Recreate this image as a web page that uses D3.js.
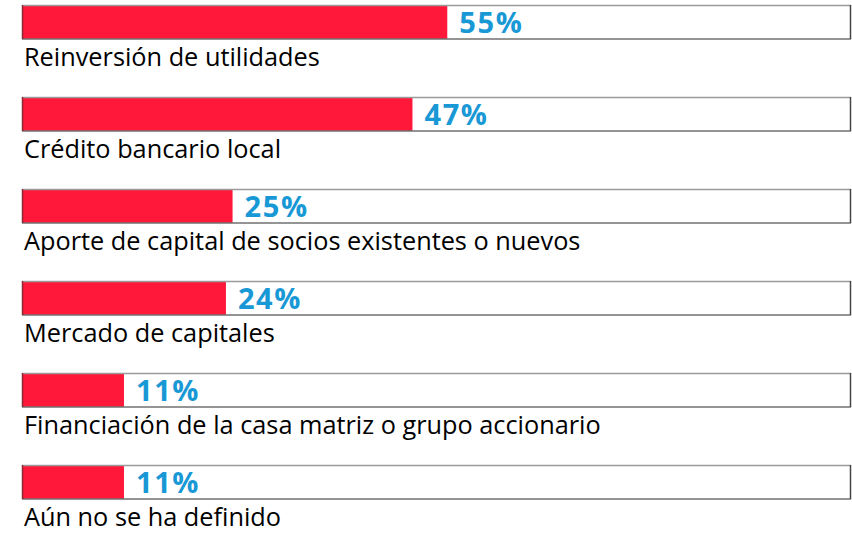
<!DOCTYPE html>
<html>
<head>
<meta charset="utf-8">
<script src="https://cdn.jsdelivr.net/npm/d3@7"></script>
<style>
  html, body { margin: 0; padding: 0; background: #fff; }
  svg { display: block; }
  .cat-label { font-family: "Open Sans", sans-serif; font-size: 25.3px; fill: #000; }
  .pct-label { font-family: "Open Sans", sans-serif; font-size: 29px; font-weight: 700; fill: #1998d6; letter-spacing: 1.6px; }
</style>
</head>
<body>
<svg id="chart"></svg>
<script>
const categories = [
  'Reinversión de utilidades',
  'Crédito bancario local',
  'Aporte de capital de socios existentes o nuevos',
  'Mercado de capitales',
  'Financiación de la casa matriz o grupo accionario',
  'Aún no se ha definido'
];
// value printed next to each bar
const values = [55, 47, 25, 24, 11, 11];
// bar length as drawn in the picture, % of the full track
const barLengths = [51.3, 47.1, 25.4, 24.6, 12.3, 12.3];

const SVG_W = 852;
const SVG_H = 534;
const TRACK_X0 = 22;
const TRACK_X1 = 851;
const ROW_STEP = 92;
const TOP = 5;
const BAR_H = 34;

const xScale = d3.scaleLinear().domain([0, 100]).range([TRACK_X0, TRACK_X1]);
const yScale = d3.scaleBand()
  .domain(categories)
  .range([TOP, TOP + ROW_STEP * categories.length])
  .paddingInner(0)
  .paddingOuter(0);

const svg = d3.select('#chart')
  .attr('width', SVG_W)
  .attr('height', SVG_H);

const rows = svg.selectAll('g.row')
  .data(categories.map((c, i) => ({ cat: c, value: values[i], bar: barLengths[i] })))
  .join('g')
  .attr('class', 'row')
  .attr('transform', d => `translate(0,${yScale(d.cat)})`);

// empty track
rows.append('rect')
  .attr('x', xScale(0))
  .attr('y', 0)
  .attr('width', xScale(100) - xScale(0))
  .attr('height', BAR_H)
  .attr('fill', '#fff');

// red bar
rows.append('rect')
  .attr('x', xScale(0))
  .attr('y', 0)
  .attr('width', d => xScale(d.bar) - xScale(0))
  .attr('height', BAR_H)
  .attr('fill', '#ff1839');

// track borders: light top, darker bottom/right
rows.append('line')
  .attr('x1', xScale(0)).attr('x2', xScale(100))
  .attr('y1', 0.5).attr('y2', 0.5)
  .attr('stroke', '#9a9a9a').attr('stroke-width', 1.5);
rows.append('line')
  .attr('x1', xScale(0)).attr('x2', xScale(100))
  .attr('y1', BAR_H).attr('y2', BAR_H)
  .attr('stroke', '#707070').attr('stroke-width', 1.5);
rows.append('line')
  .attr('x1', xScale(100) - 0.5).attr('x2', xScale(100) - 0.5)
  .attr('y1', 0).attr('y2', BAR_H)
  .attr('stroke', '#444').attr('stroke-width', 1.5);
rows.append('line')
  .attr('x1', xScale(0) + 0.5).attr('x2', xScale(0) + 0.5)
  .attr('y1', 0).attr('y2', BAR_H)
  .attr('stroke', '#8a2a36').attr('stroke-width', 1.5);

rows.append('text')
  .attr('class', 'pct-label')
  .attr('x', d => xScale(d.bar) + 12)
  .attr('y', 27.5)
  .text(d => d.value + '%');

rows.append('text')
  .attr('class', 'cat-label')
  .attr('x', 24)
  .attr('y', 60.5)
  .text(d => d.cat);
</script>
</body>
</html>
